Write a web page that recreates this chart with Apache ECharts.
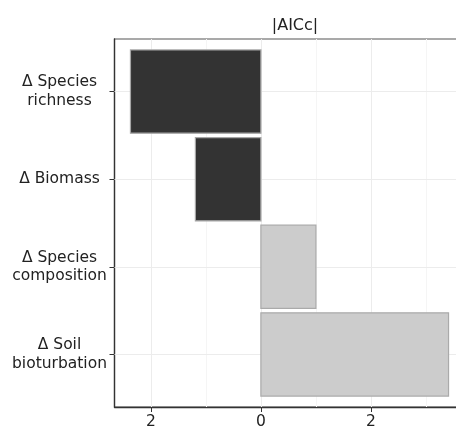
<!DOCTYPE html>
<html>
<head>
<meta charset="utf-8">
<script src="https://cdn.jsdelivr.net/npm/echarts@6/dist/echarts.min.js"></script>
<style>html,body{margin:0;padding:0;background:#fff}#c{width:456px;height:429px}</style>
</head>
<body>
<div id="c"></div>
<script>
var categories = ['Δ Species\nrichness', 'Δ Biomass', 'Δ Species\ncomposition', 'Δ Soil\nbioturbation'];
var values = [-2.37, -1.19, 1.0, 3.41];
var fillColors = ['#333333', '#333333', '#cccccc', '#cccccc'];
var edgeColors = ['#a6a6a6', '#a6a6a6', '#aaaaaa', '#aaaaaa'];
var xTicks = [-2, 0, 2];
var xMinor = [-1, 1, 3];
var catIdx = [0, 1, 2, 3];

var chart = echarts.init(document.getElementById('c'), null, {renderer: 'canvas'});
var FONT = 'DejaVu Sans';
var data = values.map(function (v, i) { return [v, i]; });
var halfBar = 0.475;

var gridLines = [];
xTicks.forEach(function (v) { gridLines.push({xAxis: v, lineStyle: {color: '#ececec', width: 1, type: 'solid'}}); });
xMinor.forEach(function (v) { gridLines.push({xAxis: v, lineStyle: {color: '#f5f5f5', width: 1, type: 'solid'}}); });
catIdx.forEach(function (v) { gridLines.push({yAxis: v, lineStyle: {color: '#ececec', width: 1, type: 'solid'}}); });

chart.setOption({
  animation: false,
  title: {
    text: '|AICc|', left: 290, top: 13, textAlign: 'center',
    textStyle: {fontFamily: FONT, fontSize: 16, fontWeight: 'normal', color: '#222'}
  },
  grid: {left: 114.5, top: 39, width: 350, height: 368, outerBoundsMode: 'none', containLabel: false,
    show: true, borderColor: '#555', borderWidth: 1.2, backgroundColor: '#fff'},
  xAxis: {
    type: 'value', min: -2.66, max: 3.70,
    axisLine: {show: true, onZero: false, lineStyle: {color: '#333', width: 1.3}},
    axisTick: {show: true, length: 5, customValues: xTicks, lineStyle: {color: '#333'}},
    axisLabel: {customValues: xTicks, margin: 7, fontFamily: FONT, fontSize: 15.5, color: '#222',
      formatter: function (v) { return String(Math.abs(v)); }},
    splitLine: {show: false}
  },
  yAxis: {
    type: 'value', min: -0.6, max: 3.6, inverse: true,
    axisLine: {show: true, onZero: false, lineStyle: {color: '#333', width: 1.3}},
    axisTick: {show: true, length: 5, customValues: catIdx, lineStyle: {color: '#333'}},
    axisLabel: {customValues: catIdx, margin: 55, align: 'center', fontFamily: FONT, fontSize: 15.5,
      lineHeight: 18.5, color: '#222',
      formatter: function (v) { return categories[Math.round(v)]; }},
    splitLine: {show: false}
  },
  series: [
    {
      type: 'scatter', data: [], z: 1, silent: true,
      markLine: {silent: true, symbol: 'none', label: {show: false}, data: gridLines, animation: false}
    },
    {
      type: 'custom', z: 5,
      data: data,
      renderItem: function (params, api) {
        var v = api.value(0), idx = api.value(1);
        var p1 = api.coord([0, idx - halfBar]);
        var p2 = api.coord([v, idx + halfBar]);
        var x = Math.min(p1[0], p2[0]), y = Math.min(p1[1], p2[1]);
        var w = Math.abs(p2[0] - p1[0]), h = Math.abs(p2[1] - p1[1]);
        return {
          type: 'rect',
          shape: {x: x, y: y, width: w, height: h},
          style: {fill: fillColors[idx], stroke: edgeColors[idx], lineWidth: 1.2}
        };
      },
      encode: {x: 0, y: 1}
    }
  ]
});
</script>
</body>
</html>
